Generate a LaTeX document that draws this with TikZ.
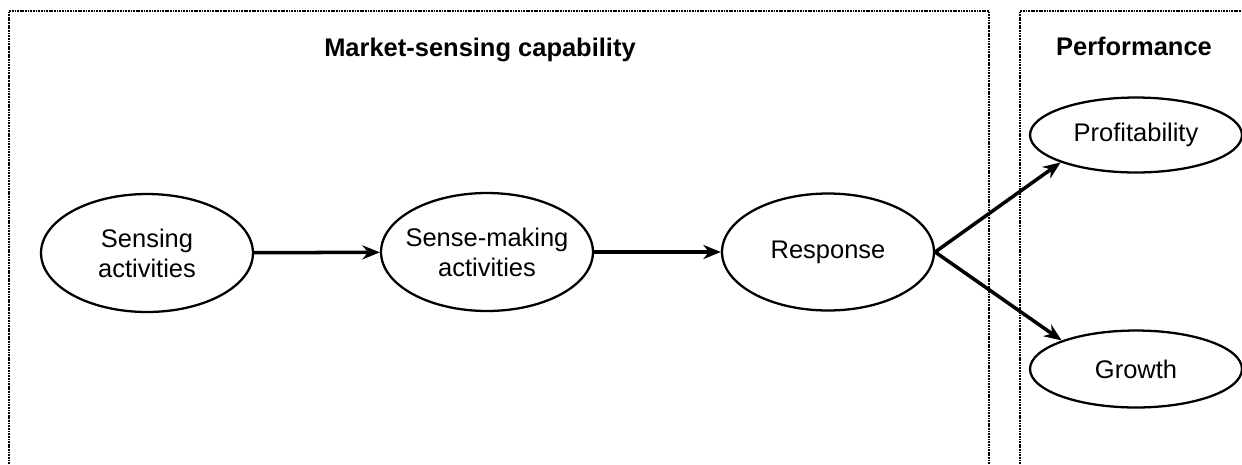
\documentclass[tikz,border=0pt]{standalone}
\usepackage{fontspec}
\setmainfont{Liberation Sans}
\usetikzlibrary{shapes.geometric,arrows.meta,positioning}

\begin{document}
\begin{tikzpicture}[x=0.02cm,y=-0.02cm,
				construct/.style={draw, ellipse, line width=1.3pt, inner xsep=-4pt, inner ysep=0pt, align=center,
					minimum width=4.24cm, font=\fontsize{14.5}{17}\selectfont},
				title/.style={font=\fontsize{14.5}{17}\selectfont\bfseries},
				frame/.style={line width=0.9pt, dash pattern=on 1pt off 0.5pt},
				link/.style={line width=2pt, -{Stealth[length=10pt,width=8pt]}}
				]
				\useasboundingbox (0,0) rectangle (1242,464);
				% the two panels, open at the bottom
				\draw[frame] (9,464) -- (9,11) -- (989,11) -- (989,464);
				\draw[frame] (1020,464) -- (1020,11) -- (1242,11);
				\node[title] (msc) at (480,50) {Market-sensing capability};
				\node[title] (perf) at (1134,46) {Performance};
				
				\node[construct, minimum height=2.36cm] (sensing) at (147,253) {Sensing\\activities};
				\node[construct, minimum height=2.36cm] (sensemaking) at (487,252) {Sense-making\\activities};
				\node[construct, minimum height=2.34cm] (response) at (828,252) {Response};
				\node[construct, minimum height=1.5cm] (profit) at (1136,135) {Profitability};
				\node[construct, minimum height=1.54cm] (growth) at (1136,369) {Growth};
				
				\draw[link] (sensing) -- (sensemaking);
				\draw[link] (sensemaking) -- (response);
				\draw[link] (response.east) -- (profit.200);
				\draw[link] (response.east) -- (growth.159);
			\end{tikzpicture}
\end{document}
